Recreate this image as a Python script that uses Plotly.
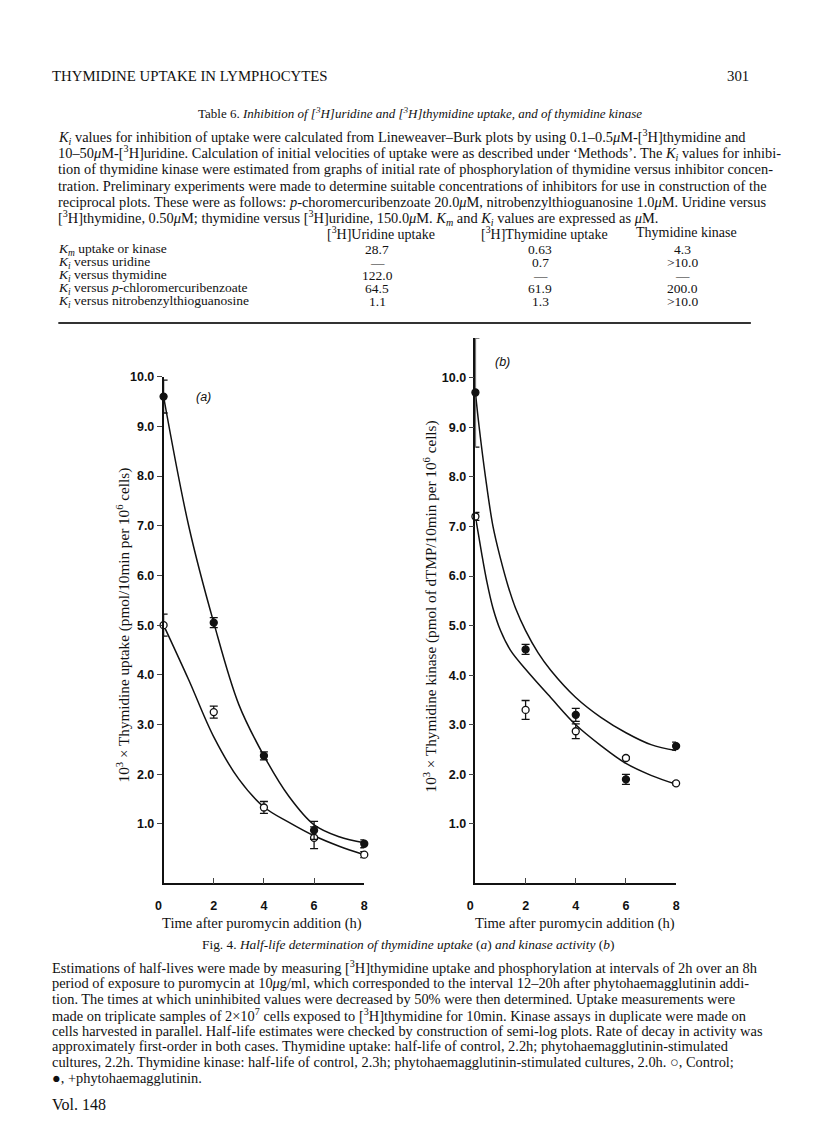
import plotly.graph_objects as go

# ---- data ----
hours = [0, 2, 4, 6, 8]

# (a) thymidine uptake
uptake_pha = [9.6, 5.05, 2.37, 0.87, 0.60]
uptake_pha_err = [0.33, 0.10, 0.08, 0.18, 0.08]
uptake_ctl = [5.0, 3.25, 1.33, 0.72, 0.38]
uptake_ctl_err = [0.22, 0.12, 0.12, 0.22, 0.06]
uptake_fit_t = [0, 1, 2, 3, 4, 5, 6, 7, 8]
uptake_pha_fit = [9.6, 7.0, 5.05, 3.4, 2.37, 1.55, 0.98, 0.74, 0.62]
uptake_ctl_fit = [5.0, 3.9, 2.75, 1.9, 1.34, 1.03, 0.76, 0.55, 0.38]

# (b) thymidine kinase
kinase_pha = [9.7, 4.52, 3.2, 1.9, 2.57]
kinase_pha_err = [1.1, 0.10, 0.13, 0.10, 0.08]
kinase_ctl = [7.2, 3.3, 2.87, 2.33, 1.82]
kinase_ctl_err = [0.08, 0.19, 0.15, 0.03, 0.03]
kinase_pha_fit_t = [0, 0.15, 0.4, 0.7, 1.0, 1.3, 1.6, 2, 2.5, 3, 4, 5, 6, 7, 8]
kinase_pha_fit = [9.7, 9.0, 8.0, 7.0, 6.35, 5.8, 5.35, 4.9, 4.45, 4.1, 3.55, 3.15, 2.84, 2.6, 2.48]
kinase_ctl_fit_t = [0, 0.1, 0.25, 0.45, 0.7, 1.0, 1.4, 2, 3, 4, 5, 6, 7, 8]
kinase_ctl_fit = [7.2, 6.9, 6.45, 5.9, 5.35, 4.9, 4.5, 4.12, 3.55, 3.0, 2.58, 2.22, 1.98, 1.8]

y_ticks = [1, 2, 3, 4, 5, 6, 7, 8, 9, 10]
y_ticktext = ["1.0", "2.0", "3.0", "4.0", "5.0", "6.0", "7.0", "8.0", "9.0", "10.0"]
x_ticks = [0, 2, 4, 6, 8]
x_ticktext = ["0\u00a0\u00a0\u00a0", "2", "4", "6", "8"]

# table 6
table_cols = ["[<sup>3</sup>H]Uridine uptake", "[<sup>3</sup>H]Thymidine uptake", "Thymidine kinase"]
table_rows = [
    "<i>K<sub>m</sub></i> uptake or kinase",
    "<i>K<sub>i</sub></i> versus uridine",
    "<i>K<sub>i</sub></i> versus thymidine",
    "<i>K<sub>i</sub></i> versus <i>p</i>-chloromercuribenzoate",
    "<i>K<sub>i</sub></i> versus nitrobenzylthioguanosine",
]
uridine_uptake = ["28.7", "—", "122.0", "64.5", "1.1"]
thymidine_uptake = ["0.63", "0.7", "—", "61.9", "1.3"]
thymidine_kinase = ["4.3", ">10.0", "—", "200.0", ">10.0"]

table_note = [
    "<i>K<sub>i</sub></i> values for inhibition of uptake were calculated from Lineweaver–Burk plots by using 0.1–0.5<i>μ</i>M-[<sup>3</sup>H]thymidine and",
    "10–50<i>μ</i>M-[<sup>3</sup>H]uridine. Calculation of initial velocities of uptake were as described under ‘Methods’. The <i>K<sub>i</sub></i> values for inhibi-",
    "tion of thymidine kinase were estimated from graphs of initial rate of phosphorylation of thymidine versus inhibitor concen-",
    "tration. Preliminary experiments were made to determine suitable concentrations of inhibitors for use in construction of the",
    "reciprocal plots. These were as follows: <i>p</i>-choromercuribenzoate 20.0<i>μ</i>M, nitrobenzylthioguanosine 1.0<i>μ</i>M. Uridine versus",
    "[<sup>3</sup>H]thymidine, 0.50<i>μ</i>M; thymidine versus [<sup>3</sup>H]uridine, 150.0<i>μ</i>M. <i>K<sub>m</sub></i> and <i>K<sub>i</sub></i> values are expressed as <i>μ</i>M.",
]

legend_note = [
    "Estimations of half-lives were made by measuring [<sup>3</sup>H]thymidine uptake and phosphorylation at intervals of 2h over an 8h",
    "period of exposure to puromycin at 10<i>μ</i>g/ml, which corresponded to the interval 12–20h after phytohaemagglutinin addi-",
    "tion. The times at which uninhibited values were decreased by 50% were then determined. Uptake measurements were",
    "made on triplicate samples of 2×10<sup>7</sup> cells exposed to [<sup>3</sup>H]thymidine for 10min. Kinase assays in duplicate were made on",
    "cells harvested in parallel. Half-life estimates were checked by construction of semi-log plots. Rate of decay in activity was",
    "approximately first-order in both cases. Thymidine uptake: half-life of control, 2.2h; phytohaemagglutinin-stimulated",
    "cultures, 2.2h. Thymidine kinase: half-life of control, 2.3h; phytohaemagglutinin-stimulated cultures, 2.0h. ○, Control;",
    "●, +phytohaemagglutinin.",
]

# figure sits inside the browser's default 8px body margin
OFF = 8
W, H = 800, 1112
SERIF = "Liberation Serif, Times New Roman, serif"
TICKFONT = dict(family="Liberation Sans Narrow, Liberation Sans, Arial", size=12.5, color="#111", weight="bold")
INK = "#111"


def px(x):
    return (x - OFF) / W


def py(y):
    return 1 - (y - OFF) / H


fig = go.Figure()


def add_panel(xa, ya, fits, points):
    for t, v in fits:
        fig.add_trace(go.Scatter(x=t, y=v, xaxis=xa, yaxis=ya, mode="lines",
                                 line=dict(color=INK, width=1.5, shape="spline", smoothing=1.0),
                                 hoverinfo="skip", showlegend=False))
    for v, e, fill in points:
        fig.add_trace(go.Scatter(
            x=hours, y=v, xaxis=xa, yaxis=ya, mode="markers",
            marker=dict(size=7, color=INK if fill else "white", line=dict(color=INK, width=1.3)),
            error_y=dict(type="data", array=e, color=INK, thickness=1.3, width=4),
            cliponaxis=False, showlegend=False))


add_panel("x", "y",
          [(uptake_fit_t, uptake_pha_fit), (uptake_fit_t, uptake_ctl_fit)],
          [(uptake_ctl, uptake_ctl_err, False), (uptake_pha, uptake_pha_err, True)])
add_panel("x2", "y2",
          [(kinase_pha_fit_t, kinase_pha_fit), (kinase_ctl_fit_t, kinase_ctl_fit)],
          [(kinase_ctl, kinase_ctl_err, False), (kinase_pha, kinase_pha_err, True)])

xax = dict(range=[0, 8], tickvals=x_ticks, ticktext=x_ticktext, ticks="inside", ticklen=6, tickwidth=1.3,
           showline=True, linecolor=INK, linewidth=1.5, showgrid=False, zeroline=False,
           tickfont=TICKFONT, ticklabelstandoff=10)
yax = dict(tickvals=y_ticks, ticktext=y_ticktext, ticks="outside", ticklen=5, tickwidth=1.3,
           showline=True, linecolor=INK, linewidth=1.5, showgrid=False, zeroline=False,
           tickfont=TICKFONT)

fig.update_layout(
    width=W, height=H, margin=dict(l=0, r=0, t=0, b=0),
    paper_bgcolor="white", plot_bgcolor="rgba(0,0,0,0)",
    font=dict(family=SERIF, color=INK),
    xaxis=dict(xax, domain=[px(157), px(361)], anchor="y"),
    yaxis=dict(yax, domain=[py(882), py(372)], range=[-0.2, 10.0], anchor="x"),
    xaxis2=dict(xax, domain=[px(474), px(678)], anchor="y2"),
    yaxis2=dict(yax, domain=[py(882), py(333)], range=[-0.2, 10.8], anchor="x2"),
)

ann = []


def text(x, y, s, size=14, xanchor="center", **kw):
    ann.append(dict(x=px(x), y=py(y), xref="paper", yref="paper", text=s, showarrow=False,
                    xanchor=xanchor, yanchor="middle", font=dict(family=SERIF, size=size, color=INK), **kw))


# running header
text(42, 69, "THYMIDINE UPTAKE IN LYMPHOCYTES", size=14.8, xanchor="left")
text(754, 69, "301", size=14.8, xanchor="right")

# table
text(418, 107, "Table 6. <i>Inhibition of [<sup>3</sup>H]uridine and [<sup>3</sup>H]thymidine uptake, and of thymidine kinase</i>", size=13)
for i, line in enumerate(table_note):
    text(48, 131 + i * 16.2, line, size=14.4, xanchor="left")
col_x = [378, 544, 689]
for cx, c in zip(col_x, table_cols):
    text(cx, 227, c, size=14)
for i, r in enumerate(table_rows):
    yy = 244 + i * 13
    text(48, yy, r, size=13.5, xanchor="left")
    for cx, v in zip(col_x, [uridine_uptake[i], thymidine_uptake[i], thymidine_kinase[i]]):
        text(cx - 4, yy, v, size=13.5)

fig.add_shape(type="line", xref="paper", yref="paper", x0=px(50), x1=px(754), y0=py(318), y1=py(318),
              line=dict(color="#333", width=2))

# panel labels and axis titles
ann.append(dict(x=px(188), y=py(392), xref="paper", yref="paper", text="<i>(a)</i>", showarrow=False,
                font=dict(family="Liberation Sans, Arial", size=12.5, color=INK)))
ann.append(dict(x=px(502), y=py(348), xref="paper", yref="paper", text="<i>(b)</i>", showarrow=False,
                font=dict(family="Liberation Sans, Arial", size=12.5, color=INK)))
text(116, 622, "10<sup>3</sup> × Thymidine uptake (pmol/10min per 10<sup>6</sup> cells)", size=15.2, textangle=-90)
text(428, 603, "10<sup>3</sup> × Thymidine kinase (pmol of dTMP/10min per 10<sup>6</sup> cells)", size=15.2, textangle=-90)
text(257, 922, "Time after puromycin addition (h)", size=14.6)
text(575, 922, "Time after puromycin addition (h)", size=14.6)

text(405, 943, "Fig. 4. <i>Half-life determination of thymidine uptake</i> (<i>a</i>) <i>and kinase activity</i> (<i>b</i>)", size=13.4)
for i, line in enumerate(legend_note):
    text(42, 966 + i * 16, line, size=14.4, xanchor="left")
text(42, 1104, "Vol. 148", size=16, xanchor="left")

fig.update_layout(annotations=ann)
fig.write_html("out.html")
